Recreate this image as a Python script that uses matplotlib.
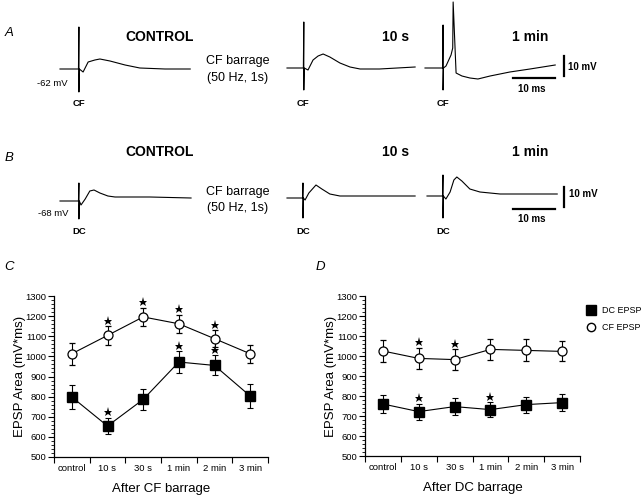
import matplotlib
matplotlib.use("Agg")
import matplotlib.pyplot as plt
from matplotlib.lines import Line2D
import numpy as np

plt.rcParams["font.family"] = ["Liberation Sans", "DejaVu Sans"]

W, H = 642, 497

# ---- bar-chart data (panels C and D) ----
times_lbl = ["control", "10 s", "30 s", "1 min", "2 min", "3 min"]

c_cf = [1013, 1104, 1196, 1162, 1088, 1013]
c_cf_err = [55, 45, 45, 45, 42, 45]
c_dc = [798, 654, 786, 972, 955, 803]
c_dc_err = [58, 41, 50, 54, 50, 58]
c_cf_sig = [False, True, True, True, True, False]
c_dc_sig = [False, True, False, True, True, False]

d_cf = [1025, 988, 982, 1033, 1028, 1023]
d_cf_err = [53, 53, 52, 52, 55, 50]
d_dc = [760, 722, 747, 732, 757, 767]
d_dc_err = [44, 40, 44, 36, 40, 44]
d_cf_sig = [False, True, True, False, False, False]
d_dc_sig = [False, True, False, True, False, False]

# ---- voltage traces (ms, mV relative to rest) ----
a_ctrl_t = [0, 4.4, 4.5, 4.5, 4.6, 5.5, 6.7, 8.3, 9.5, 11.9, 15.5, 19, 25, 31]
a_ctrl_v = [0, 0, 21, -11.5, 0, -1.5, 3.5, 4.5, 5, 4, 2, 0.5, 0, 0]
a_10s_t = [0, 3.9, 4.0, 4.0, 4.1, 5.0, 6.2, 7.4, 8.6, 10.2, 12.6, 15, 17.4, 22, 30.5]
a_10s_v = [0, 0, 23, -11, 0, -1, 4, 6, 7, 5.5, 2.5, 0.5, -0.5, -0.5, 0.5]
a_1m_t = [0, 4.2, 4.3, 4.3, 4.4, 5.0, 6.2, 6.6, 6.7, 7.4, 8.8, 10.7, 12.6, 15.5, 20.2, 25, 31]
a_1m_v = [0, 0, 21.5, -11, 0, 1, 6.5, 10, 33, -2.5, -4, -5, -5.5, -4, -2, -0.5, 1.5]

b_ctrl_t = [0, 4.4, 4.5, 4.5, 4.6, 5.0, 6.0, 7.1, 8.1, 9.5, 11.4, 13.1, 21.4, 31.2]
b_ctrl_v = [0, 0, 9, -9, 0, -2, 1, 5, 5.5, 4, 2.5, 2, 2, 1.5]
b_10s_t = [0, 3.7, 3.8, 3.8, 3.9, 4.3, 5.2, 6.9, 8.3, 10.2, 12.6, 30.5]
b_10s_v = [0, 0, 7.5, -10, 0, -1, 2.5, 6.5, 4.5, 2, 1, 1]
b_1m_t = [0, 3.7, 3.8, 3.8, 3.9, 4.5, 5.5, 6.4, 7.1, 8.3, 10.2, 12.6, 17.4, 31]
b_1m_v = [0, 0, 10.5, -11, 0, -1.5, 2, 8, 9.5, 7.5, 3.5, 2, 1, 1]

fig = plt.figure(figsize=(W / 100, H / 100), dpi=100)


def fx(x):
    return x / W


def fy(y):
    return 1 - y / H


def trace_axes(x0, ybase):
    # 4.2 px per ms, 2 px per mV
    w, h = 170, 120
    ax = fig.add_axes([fx(x0), fy(ybase + h / 2), w / W, h / H])
    ax.set_xlim(0, w / 4.2)
    ax.set_ylim(-30, 30)
    ax.axis("off")
    return ax


def scale_bar(ax, t0, vbar):
    ax.plot([t0, t0 + 10], [vbar, vbar], color="black", lw=1.6, clip_on=False)
    ax.plot([t0 + 12.1, t0 + 12.1], [vbar + 11, vbar + 1], color="black",
            lw=1.6, clip_on=False)


traces = [
    (60, 69, a_ctrl_t, a_ctrl_v),
    (287, 68, a_10s_t, a_10s_v),
    (425, 68, a_1m_t, a_1m_v),
    (60, 201, b_ctrl_t, b_ctrl_v),
    (287, 198, b_10s_t, b_10s_v),
    (427, 196, b_1m_t, b_1m_v),
]
tax = []
for x0, yb, t, v in traces:
    ax = trace_axes(x0, yb)
    ax.plot(t, v, color="black", lw=0.8, clip_on=False)
    tax.append(ax)

scale_bar(tax[2], 21.0, -5)
scale_bar(tax[5], 20.5, -6.5)

# ---- trace annotations ----
def txt(x, y, s, **kw):
    kw.setdefault("ha", "center")
    kw.setdefault("va", "center")
    fig.text(fx(x), fy(y), s, **kw)


for y, name in [(33, "A"), (158, "B"), (267, "C")]:
    txt(9, y, name, fontsize=9.5, style="italic")
txt(320, 267, "D", fontsize=9.5, style="italic")

for y in (37, 152):
    txt(160, y, "CONTROL", fontsize=10, weight="bold")
    txt(396, y, "10 s", fontsize=10, weight="bold")
    txt(530, y, "1 min", fontsize=10, weight="bold")

txt(238, 61, "CF barrage", fontsize=9)
txt(238, 78, "(50 Hz, 1s)", fontsize=9)
txt(238, 192, "CF barrage", fontsize=9)
txt(238, 208, "(50 Hz, 1s)", fontsize=9)

txt(68, 83, "-62 mV", fontsize=6.8, ha="right")
txt(68, 214, "-68 mV", fontsize=6.8, ha="right")
for x in (79, 303, 443):
    txt(x, 103, "CF", fontsize=6.8, weight="bold")
    txt(x, 232, "DC", fontsize=6.8, weight="bold")

txt(568, 67, "10 mV", fontsize=7, weight="bold", ha="left")
txt(532, 89, "10 ms", fontsize=7, weight="bold")
txt(569, 194, "10 mV", fontsize=7, weight="bold", ha="left")
txt(532, 219, "10 ms", fontsize=7, weight="bold")

# ---- panels C and D ----
def epsp_panel(rect, cf, cf_err, dc, dc_err, cf_sig, dc_sig, xlabel):
    ax = fig.add_axes(rect)
    x = np.arange(len(times_lbl))
    ax.errorbar(x, dc, yerr=dc_err, color="black", lw=0.8, elinewidth=0.8,
                capsize=2.2, capthick=0.8, marker="s", markersize=7,
                markerfacecolor="black", markeredgecolor="black", zorder=3)
    ax.errorbar(x, cf, yerr=cf_err, color="black", lw=0.8, elinewidth=0.8,
                capsize=2.2, capthick=0.8, marker="o", markersize=6.5,
                markerfacecolor="white", markeredgecolor="black",
                markeredgewidth=0.9, zorder=3)
    for vals, errs, sig in [(cf, cf_err, cf_sig), (dc, dc_err, dc_sig)]:
        xs = [i for i in x if sig[i]]
        ys = [vals[i] + errs[i] + 28 for i in x if sig[i]]
        ax.plot(xs, ys, linestyle="none", marker="*", markersize=6.5,
                markeredgewidth=0, color="black", zorder=4)
    ax.set_xlim(-0.5, 5.5)
    ax.set_ylim(500, 1300)
    ax.spines["top"].set_visible(False)
    ax.spines["right"].set_visible(False)
    ax.spines["left"].set_linewidth(0.9)
    ax.spines["bottom"].set_linewidth(0.9)
    ax.set_yticks(np.arange(500, 1301, 100))
    ax.set_yticks(np.arange(500, 1301, 20), minor=True)
    ax.set_xticks(np.arange(-0.5, 5.6, 1))
    ax.set_xticklabels([])
    ax.set_xticks(x, minor=True)
    ax.set_xticklabels(times_lbl, minor=True)
    ax.tick_params(axis="y", which="major", length=4, width=0.8,
                   labelsize=6.8, pad=1.5)
    ax.tick_params(axis="y", which="minor", length=2, width=0.6)
    ax.tick_params(axis="x", which="major", length=4, width=0.8)
    ax.tick_params(axis="x", which="minor", length=0, labelsize=6.8, pad=5)
    ax.set_ylabel("EPSP Area (mV*ms)", fontsize=9.5)
    ax.set_xlabel(xlabel, fontsize=9.5)
    ax.yaxis.set_label_coords(-0.13, 0.5)
    ax.xaxis.set_label_coords(0.5, -0.16)
    return ax


axc = epsp_panel([fx(54), fy(457), 214 / W, 161 / H], c_cf, c_cf_err,
                 c_dc, c_dc_err, c_cf_sig, c_dc_sig, "After CF barrage")
axd = epsp_panel([fx(365), fy(456), 215 / W, 160 / H], d_cf, d_cf_err,
                 d_dc, d_dc_err, d_cf_sig, d_dc_sig, "After DC barrage")

handles = [
    Line2D([], [], linestyle="none", marker="s", markersize=6.5,
           markerfacecolor="black", markeredgecolor="black"),
    Line2D([], [], linestyle="none", marker="o", markersize=6,
           markerfacecolor="white", markeredgecolor="black"),
]
fig.legend(handles, ["DC EPSP", "CF EPSP"], loc="upper left",
           bbox_to_anchor=(fx(586), fy(306)), frameon=False, fontsize=6.5,
           handlelength=1, handletextpad=0.8, labelspacing=0.9,
           borderpad=0, borderaxespad=0)

fig.savefig("out.png", dpi=100)
